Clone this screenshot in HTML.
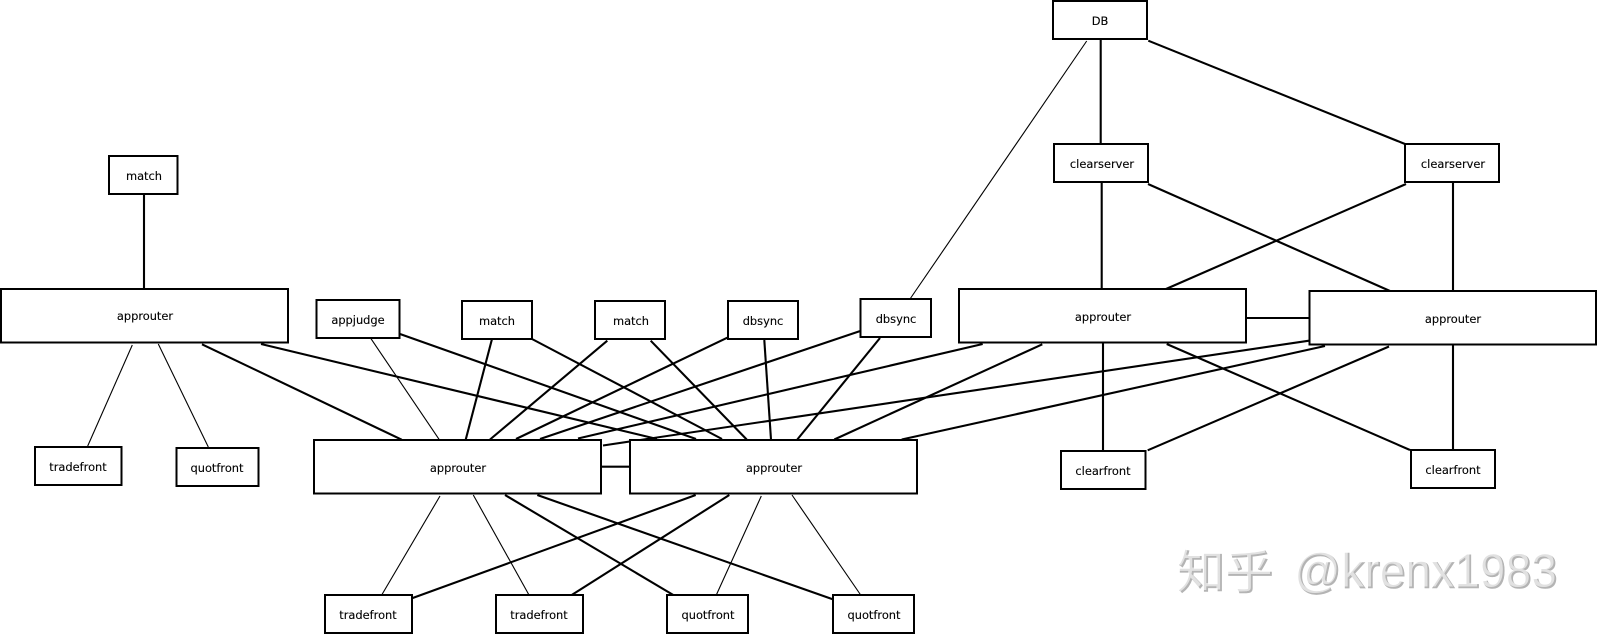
<!DOCTYPE html>
<html><head><meta charset="utf-8"><style>
html,body{margin:0;padding:0;background:#fff;width:1599px;height:635px;overflow:hidden}
svg{display:block}
.b{fill:#fff;stroke:#000;stroke-width:2;shape-rendering:crispEdges}
.t{stroke:#000;stroke-width:2.1;fill:none}
.n{stroke:#000;stroke-width:1.1;fill:none}
text.l{font-family:"DejaVu Sans","Liberation Sans",sans-serif;font-size:11.4px;fill:#000;stroke:#000;stroke-width:.12;text-anchor:middle}
</style></head><body>
<svg width="1599" height="635" viewBox="0 0 1599 635" xmlns="http://www.w3.org/2000/svg">
<rect width="1599" height="635" fill="#fff"/>
<g class="t">
<path d="M144 194V289"/>
<path d="M202 344.3L401.7 439.7"/>
<path d="M261 344L657 439"/>
<path d="M400 334L696 439"/>
<path d="M492 339L465.7 439.7"/>
<path d="M532 339L722 439"/>
<path d="M607.3 340.7L490 439.5"/>
<path d="M650.7 340.7L746.7 439.5"/>
<path d="M727.3 337.7L516 439"/>
<path d="M764.3 340L771 439.5"/>
<path d="M861 330.7L540 439"/>
<path d="M880 338L797.3 439.5"/>
<path d="M982.7 344L578 438.5"/>
<path d="M1042.3 344.3L834.3 439.5"/>
<path d="M1309 340.7L603 445.5"/>
<path d="M1325 346L901.7 439.5"/>
<path d="M1389 346.5L1147.7 450.3"/>
<path d="M1166.7 344L1410 450"/>
<path d="M1103 343V451"/>
<path d="M1453 345V450"/>
<path d="M1246 318H1309"/>
<path d="M601 466.7H630"/>
<path d="M1100.7 39V144"/>
<path d="M1148.3 40.7L1405 144"/>
<path d="M1101.7 182V289"/>
<path d="M1148 184L1390 291"/>
<path d="M1406 184L1166 289"/>
<path d="M1453 182V291"/>
<path d="M505 495L673.3 595"/>
<path d="M537.3 495L832.7 599.3"/>
<path d="M695.7 495L412.7 598"/>
<path d="M729.3 495L571.7 595"/>
</g>
<g class="n">
<path d="M132.3 345L87.7 446"/>
<path d="M158.3 344L208.3 447"/>
<path d="M371 338.7L439.3 439.7"/>
<path d="M1086.7 41L910 299"/>
<path d="M440 496L381.7 595"/>
<path d="M473.3 495L529 595"/>
<path d="M761.3 496L716.3 595"/>
<path d="M792 495L860.7 595"/>
</g>
<g class="b">
<rect x="1053" y="1" width="94" height="38"/>
<rect x="1054" y="144" width="94" height="38"/>
<rect x="1405" y="144" width="94" height="38"/>
<rect x="109" y="156" width="68.5" height="38"/>
<rect x="1" y="289" width="287" height="53.7"/>
<rect x="316.7" y="300" width="82.6" height="38"/>
<rect x="462" y="301" width="70" height="38"/>
<rect x="595" y="301" width="70" height="38"/>
<rect x="728" y="301" width="70" height="38"/>
<rect x="860.7" y="299" width="70.3" height="38"/>
<rect x="959" y="289" width="287" height="53.7"/>
<rect x="1309.3" y="291" width="286.7" height="53.7"/>
<rect x="35" y="447" width="86.3" height="38"/>
<rect x="176.7" y="448" width="81.6" height="38"/>
<rect x="314" y="440" width="287" height="53.7"/>
<rect x="630" y="440" width="287" height="53.7"/>
<rect x="1061" y="451" width="84.3" height="38"/>
<rect x="1411" y="450" width="84" height="38"/>
<rect x="325" y="595" width="87" height="38"/>
<rect x="496" y="595" width="87" height="38"/>
<rect x="667" y="595" width="81" height="38"/>
<rect x="833" y="595" width="81" height="38"/>
</g>
<g>
<text class="l" x="1100" y="25">DB</text>
<text class="l" x="1102" y="168">clearserver</text>
<text class="l" x="1453" y="168">clearserver</text>
<text class="l" x="144" y="180">match</text>
<text class="l" x="145" y="320">approuter</text>
<text class="l" x="358" y="324">appjudge</text>
<text class="l" x="497" y="325">match</text>
<text class="l" x="631" y="325">match</text>
<text class="l" x="763" y="325">dbsync</text>
<text class="l" x="896" y="323">dbsync</text>
<text class="l" x="1103" y="321">approuter</text>
<text class="l" x="1453" y="323">approuter</text>
<text class="l" x="78" y="471">tradefront</text>
<text class="l" x="217" y="472">quotfront</text>
<text class="l" x="458" y="472">approuter</text>
<text class="l" x="774" y="472">approuter</text>
<text class="l" x="1103" y="475">clearfront</text>
<text class="l" x="1453" y="474">clearfront</text>
<text class="l" x="368" y="619">tradefront</text>
<text class="l" x="539" y="619">tradefront</text>
<text class="l" x="708" y="619">quotfront</text>
<text class="l" x="874" y="619">quotfront</text>
</g>
<g fill="#b4b4b4" stroke="#b4b4b4" stroke-width=".6">
<text x="1178" y="589" font-size="46" textLength="96" lengthAdjust="spacingAndGlyphs" font-family="'Liberation Sans','Noto Sans CJK SC',sans-serif">知乎</text>
<text x="1295" y="588" font-size="48" textLength="263" lengthAdjust="spacingAndGlyphs" font-family="'Liberation Sans',sans-serif">@krenx1983</text>
</g>
<g fill="#fff" opacity=".6">
<text x="1176.5" y="587.5" font-size="46" textLength="96" lengthAdjust="spacingAndGlyphs" font-family="'Liberation Sans','Noto Sans CJK SC',sans-serif">知乎</text>
<text x="1293.5" y="586.5" font-size="48" textLength="263" lengthAdjust="spacingAndGlyphs" font-family="'Liberation Sans',sans-serif">@krenx1983</text>
</g>
</svg>
</body></html>
